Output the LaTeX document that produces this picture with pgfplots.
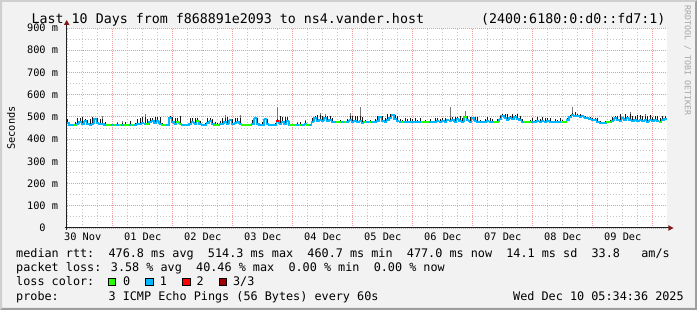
\documentclass[border=0pt]{standalone}
\usepackage{pgfplots}
\pgfplotsset{compat=1.18}
\usepackage{pgfplotstable}
\usepackage{fontspec}
\setmainfont{DejaVu Sans Mono}
\definecolor{bgc}{HTML}{F2F2F2}
\definecolor{shadeA}{HTML}{CFCFCF}
\definecolor{shadeB}{HTML}{9E9E9E}
\definecolor{majgrid}{HTML}{EE9A9A}
\definecolor{mingrid}{HTML}{C4C4C4}
\definecolor{arrowc}{HTML}{7F1A1A}
\definecolor{axisc}{HTML}{202020}
\definecolor{cz}{HTML}{26FF00}
\definecolor{co}{HTML}{00B8FF}
\definecolor{ct}{HTML}{FF0000}
\definecolor{cth}{HTML}{A10000}
\definecolor{smkA}{HTML}{1A1A1A}
\definecolor{smkB}{HTML}{777777}
\newcommand\tickf{\fontsize{10.3bp}{12bp}\selectfont}
\newcommand\legf{\fontsize{11.8bp}{14bp}\selectfont}
\newcommand\titf{\fontsize{13.3bp}{16bp}\selectfont}

\pgfplotstableread{
x med top spk c
6 474 491 491 1
7 463 463 463 1
8 463 469 469 1
9 463 476 476 0
10 470 497 497 1
11 478 493 493 1
12 468 498 498 1
13 481 492 492 1
14 470 485 485 1
15 465 490 490 1
16 470 500 500 1
17 492 492 492 1
18 472 495 495 1
19 466 489 489 1
20 470 489 505 1
21 463 476 476 1
22 463 463 463 0
23 463 465 465 0
24 463 463 463 1
25 463 469 469 0
26 463 471 478 1
27 463 469 469 0
28 464 472 482 1
29 463 476 476 0
30 463 465 465 0
31 463 480 480 1
32 463 469 469 0
33 463 472 472 1
34 468 491 491 1
35 470 497 497 1
36 472 499 499 1
37 470 498 513 1
38 466 489 489 0
39 478 497 497 1
40 482 497 497 1
41 472 499 499 1
42 480 499 499 1
43 470 500 500 1
44 463 472 472 0
45 463 464 464 0
46 463 469 469 1
47 495 504 504 1
48 478 501 501 1
49 470 497 497 1
50 476 495 495 0
51 470 504 504 0
52 463 469 469 1
53 463 464 464 1
54 463 469 469 1
55 470 493 493 1
56 476 495 495 1
57 470 497 497 1
58 480 495 495 0
59 466 481 481 1
60 463 469 469 1
61 463 472 472 1
62 472 497 497 1
63 480 493 493 1
64 470 489 489 1
65 463 476 476 0
66 463 471 471 0
67 466 481 481 1
68 470 493 493 1
69 478 497 508 1
70 470 500 500 1
71 484 492 492 1
72 466 489 489 1
73 472 495 495 1
74 478 495 495 1
75 470 497 510 1
76 463 469 469 0
77 463 464 464 0
78 463 465 465 0
79 463 469 469 0
80 468 487 487 1
81 493 493 493 1
82 470 497 497 1
83 463 469 469 1
84 463 476 476 1
85 490 494 494 1
86 466 489 489 1
87 463 469 469 1
88 463 469 469 1
89 463 472 472 1
90 483 489 546 2
91 470 504 504 1
92 478 501 501 1
93 466 500 500 1
94 480 499 499 1
95 463 469 469 0
96 463 464 464 0
97 463 469 469 0
98 463 472 478 1
99 463 476 476 0
100 463 469 469 1
101 466 481 486 1
102 463 469 469 0
103 463 469 469 1
104 478 493 493 1
105 495 505 505 1
106 480 508 508 1
107 486 508 516 1
108 482 506 506 1
109 496 502 513 1
110 480 506 506 1
111 486 505 505 1
112 478 493 493 1
113 478 482 482 1
114 475 480 480 0
115 478 486 486 0
116 478 482 482 1
117 478 482 482 0
118 478 489 489 1
119 484 505 516 1
120 478 504 504 1
121 482 505 505 1
122 476 502 502 1
123 480 506 546 1
124 474 500 500 1
125 478 486 486 0
126 478 482 482 1
127 476 487 487 0
128 478 482 482 1
129 478 489 489 1
130 480 503 503 1
131 500 500 500 1
132 482 505 505 1
133 478 493 493 1
134 486 512 512 1
135 496 515 515 1
136 510 510 510 1
137 490 509 509 1
138 480 503 503 1
139 478 489 489 1
140 478 486 486 0
141 478 493 493 1
142 478 489 489 1
143 478 497 497 1
144 478 489 489 1
145 478 493 493 1
146 478 486 486 1
147 478 493 493 1
148 478 482 482 0
149 478 486 486 0
150 478 482 482 0
151 478 489 489 1
152 478 482 482 1
153 478 493 493 1
154 480 495 495 1
155 478 489 489 1
156 482 497 497 1
157 478 493 493 1
158 484 492 492 1
159 482 497 545 1
160 486 501 501 1
161 478 501 501 1
162 490 498 498 1
163 480 503 503 1
164 478 497 497 1
165 500 504 526 0
166 484 503 503 1
167 478 501 501 1
168 496 496 496 1
169 482 501 501 1
170 478 501 501 1
171 478 486 486 1
172 478 482 482 1
173 478 489 489 1
174 480 499 499 1
175 478 493 494 1
176 478 489 489 1
177 478 482 482 0
178 478 489 489 0
179 490 505 510 1
180 504 512 512 1
181 496 511 511 1
182 488 514 514 1
183 496 504 504 1
184 490 512 514 1
185 500 508 508 1
186 492 511 511 1
187 486 505 505 1
188 478 489 489 1
189 478 482 482 0
190 478 482 482 0
191 478 486 486 0
192 478 493 493 1
193 478 486 486 1
194 480 499 499 1
195 478 489 489 1
196 480 499 500 1
197 478 493 493 1
198 482 497 497 1
199 478 497 497 1
200 478 482 482 1
201 478 489 489 1
202 478 486 486 1
203 478 493 493 1
204 478 486 486 0
205 478 482 482 0
206 484 495 495 1
207 500 508 508 1
208 508 516 543 1
209 504 520 520 1
210 506 514 514 1
211 500 515 515 1
212 502 506 506 1
213 496 504 504 1
214 494 498 498 1
215 490 498 498 1
216 486 497 497 1
217 484 495 495 1
218 478 493 493 1
219 474 482 482 1
220 474 478 478 1
221 474 482 482 1
222 478 482 482 0
223 478 486 486 0
224 482 501 501 1
225 494 502 502 1
226 486 505 505 1
227 482 512 512 1
228 494 498 498 1
229 486 512 515 1
230 494 505 505 1
231 484 511 522 1
232 480 503 503 1
233 488 503 503 1
234 480 507 507 1
235 484 507 507 1
236 480 503 503 1
237 484 503 514 1
238 478 505 505 1
239 484 507 507 1
240 480 499 499 1
241 488 503 503 1
242 480 503 503 1
243 478 497 497 0
244 484 503 503 1
245 492 503 503 1
}\rtt

\begin{document}
\begin{tikzpicture}
\fill[bgc] (0,0) rectangle (697bp,310bp);
\fill[shadeA] (0,0) -- (0,310bp) -- (697bp,310bp) -- (695bp,308bp) -- (2bp,308bp) -- (2bp,2bp) -- cycle;
\fill[shadeB] (0,0) -- (697bp,0) -- (697bp,310bp) -- (695bp,308bp) -- (695bp,2bp) -- (2bp,2bp) -- cycle;
\useasboundingbox (0,0) rectangle (697bp,310bp);

\begin{axis}[
  at={(66.7bp,82bp)}, anchor=south west,
  width=600bp, height=200bp, scale only axis,
  xmin=5.58, xmax=245.58, ymin=0, ymax=900,
  axis line style={draw=none},
  tick style={draw=none},
  xtick={24,48,...,240}, xticklabels={},
  minor xtick={6,12,18,30,36,42,54,60,66,78,84,90,102,108,114,126,132,138,150,156,162,174,180,186,198,204,210,222,228,234},
  extra x ticks={12,36,60,84,108,132,156,180,204,228},
  extra x tick labels={30 Nov,01 Dec,02 Dec,03 Dec,04 Dec,05 Dec,06 Dec,07 Dec,08 Dec,09 Dec},
  extra x tick style={grid=none},
  xticklabel style={font=\tickf, anchor=north, inner sep=0pt, yshift=-5bp},
  ytick={0,100,...,900},
  yticklabels={0\phantom{\ m},100 m,200 m,300 m,400 m,500 m,600 m,700 m,800 m,900 m},
  yticklabel style={font=\tickf, anchor=east, inner sep=0pt, xshift=-8.4bp},
  minor ytick={50,150,...,850},
  grid=both,
  major grid style={draw=majgrid, dash pattern=on 1bp off 1bp, line width=0.8bp},
  minor grid style={draw=mingrid, dash pattern=on 1bp off 2bp, line width=0.8bp},
  axis background/.style={fill=white},
]
\addplot[draw=none, forget plot, error bars/.cd, y dir=plus, y explicit, error mark=none,
  error bar style={draw=smkB, line width=1bp, solid}]
  table[x=x, y=med, y error plus expr=\thisrow{spk}-\thisrow{med}] {\rtt};
\addplot[draw=none, forget plot, error bars/.cd, y dir=plus, y explicit, error mark=none,
  error bar style={draw=smkA, line width=1.3bp, solid}]
  table[x=x, y=med, y error plus expr=\thisrow{top}-\thisrow{med}] {\rtt};
\addplot[const plot mark mid, color=co, line width=1.2bp, forget plot] table[x=x, y=med] {\rtt};
\addplot[scatter, only marks, forget plot, scatter src=explicit symbolic, mark=-, mark size=1.35bp,
  line width=2bp,
  scatter/classes={0={mark=-, draw=cz}, 1={mark=-, draw=co}, 2={mark=-, draw=ct}}]
  table[x=x, y=med, meta=c] {\rtt};
\end{axis}

% axes and arrows
\draw[axisc, line width=1bp] (66.7bp,80bp) -- (66.7bp,286bp);
\draw[axisc, line width=1bp] (64.7bp,82bp) -- (669bp,82bp);
\fill[arrowc] (63.9bp,285bp) -- (69.5bp,285bp) -- (66.7bp,290bp) -- cycle;
\fill[arrowc] (668.3bp,79.2bp) -- (668.3bp,84.8bp) -- (673.5bp,82bp) -- cycle;

% y label
\node[rotate=90, font=\tickf, inner sep=0pt] at (11bp,182bp) {Seconds};

% title
\node[anchor=base west, inner sep=0pt, font=\titf] at (31.5bp,286bp) {Last 10 Days from f868891e2093 to ns4.vander.host};
\node[anchor=base west, inner sep=0pt, font=\titf] at (481bp,286bp) {(2400:6180:0:d0::fd7:1)};

% watermark
\node[rotate=-90, anchor=west, inner sep=0pt, font=\fontsize{8.3bp}{10bp}\selectfont, text=black!35] at (687.5bp,305bp) {RRDTOOL / TOBI OETIKER};

% legend
\node[anchor=base west, inner sep=0pt, font=\legf] at (16bp,52.7bp) {median rtt:\ \ 476.8 ms avg\ \ 514.3 ms max\ \ 460.7 ms min\ \ 477.0 ms now\ \ 14.1 ms sd\ \ 33.8\ \ \ am/s};
\node[anchor=base west, inner sep=0pt, font=\legf] at (16bp,38.3bp) {packet loss: 3.58 \% avg\ \ 40.46 \% max\ \ 0.00 \% min\ \ 0.00 \% now};
\node[anchor=base west, inner sep=0pt, font=\legf] at (16bp,24.3bp) {loss color:};
\filldraw[fill=cz, draw=black, line width=0.8bp] (108.3bp,24.3bp) rectangle (115.7bp,31.7bp);
\node[anchor=base west, inner sep=0pt, font=\legf] at (122.8bp,24.3bp) {0};
\filldraw[fill=co, draw=black, line width=0.8bp] (145.7bp,24.3bp) rectangle (153.1bp,31.7bp);
\node[anchor=base west, inner sep=0pt, font=\legf] at (159.6bp,24.3bp) {1};
\filldraw[fill=ct, draw=black, line width=0.8bp] (182.7bp,24.3bp) rectangle (190.1bp,31.7bp);
\node[anchor=base west, inner sep=0pt, font=\legf] at (196.3bp,24.3bp) {2};
\filldraw[fill=cth, draw=black, line width=0.8bp] (219.3bp,24.3bp) rectangle (226.7bp,31.7bp);
\node[anchor=base west, inner sep=0pt, font=\legf] at (232.9bp,24.3bp) {3/3};
\node[anchor=base west, inner sep=0pt, font=\legf] at (16bp,10bp) {probe:\ \ \ \ \ \ \ 3 ICMP Echo Pings (56 Bytes) every 60s};
\node[anchor=base west, inner sep=0pt, font=\legf] at (513bp,10bp) {Wed Dec 10 05:34:36 2025};
\end{tikzpicture}
\end{document}
